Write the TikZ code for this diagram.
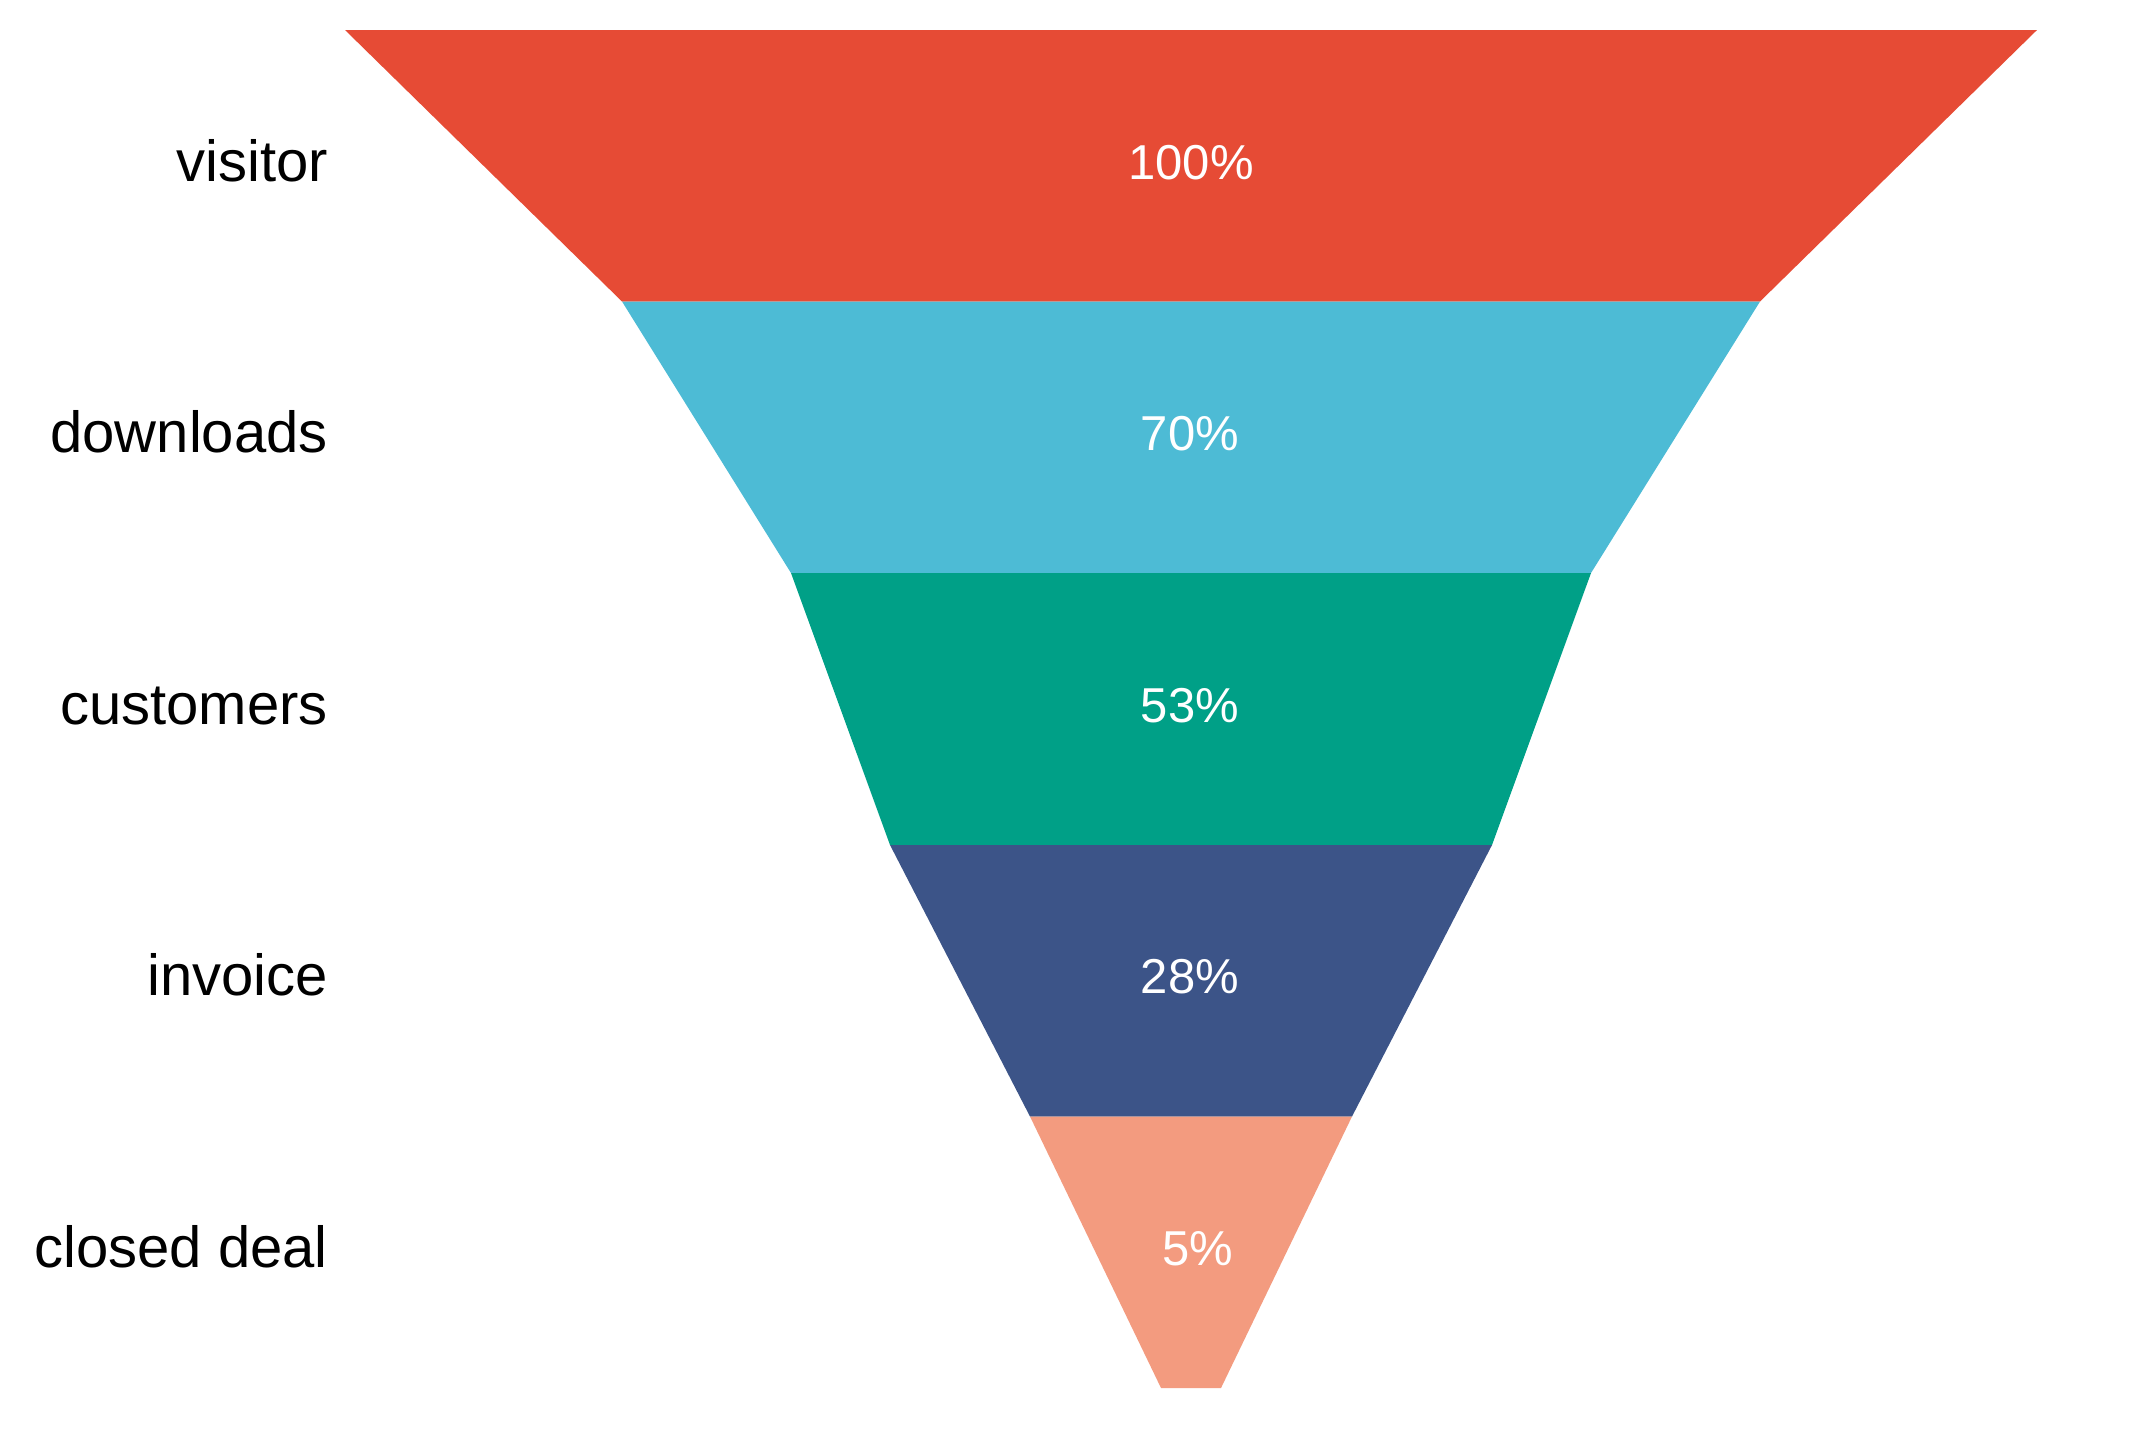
\documentclass[tikz,border=0pt]{standalone}
\usepackage{fontspec}
\setmainfont{Liberation Sans}
\definecolor{cA}{HTML}{E64B35}
\definecolor{cB}{HTML}{4DBBD5}
\definecolor{cC}{HTML}{00A087}
\definecolor{cD}{HTML}{3C5488}
\definecolor{cE}{HTML}{F39B7F}
\begin{document}
\begin{tikzpicture}[x=1pt,y=-1pt,
  stage/.style={inner sep=0pt,anchor=base east,font=\fontsize{58}{60}\selectfont,text=black},
  pct/.style={inner sep=0pt,anchor=base,font=\fontsize{49}{52}\selectfont,text=white}]
\useasboundingbox (0,0) rectangle (2151,1446);
\def\cx{1191}
% funnel bands: y levels and half widths
\fill[cA] (\cx-846,30) -- (\cx+846,30) -- (\cx+569,301.5) -- (\cx-569,301.5) -- cycle;
\fill[cB] (\cx-569,301.5) -- (\cx+569,301.5) -- (\cx+400,573) -- (\cx-400,573) -- cycle;
\fill[cC] (\cx-400,573) -- (\cx+400,573) -- (\cx+301,845) -- (\cx-301,845) -- cycle;
\fill[cD] (\cx-301,845) -- (\cx+301,845) -- (\cx+161,1116.5) -- (\cx-161,1116.5) -- cycle;
\fill[cE] (\cx-161,1116.5) -- (\cx+161,1116.5) -- (\cx+30,1388) -- (\cx-30,1388) -- cycle;
% stage labels
\node[stage] (l1) at (328,181) {visitor};
\node[stage] (l2) at (328,452.5) {downloads};
\node[stage] (l3) at (328,724) {customers};
\node[stage] (l4) at (328,995.5) {invoice};
\node[stage] (l5) at (328,1267) {closed deal};
% percentages
\node[pct] (p1) at (\cx,179) {100\%};
\node[pct] (p2) at (\cx-1,450.5) {70\%};
\node[pct] (p3) at (\cx-1,722) {53\%};
\node[pct] (p4) at (\cx-1,993.5) {28\%};
\node[pct] (p5) at (\cx+7,1265) {5\%};
\end{tikzpicture}
\end{document}
